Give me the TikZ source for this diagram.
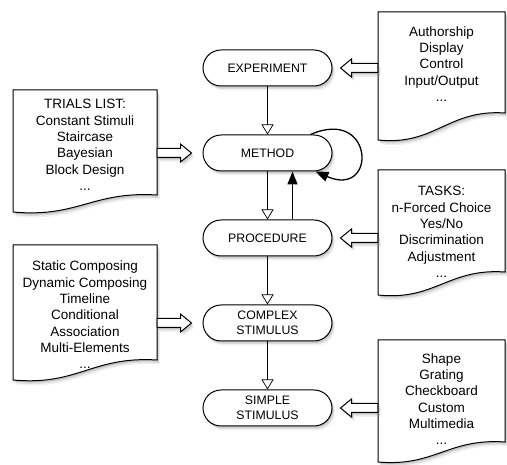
\documentclass[tikz,border=0pt]{standalone}
\usepackage{fontspec}
\setmainfont{Liberation Sans}
\usetikzlibrary{positioning,arrows.meta,shadows,calc}

\begin{document}
\begin{tikzpicture}[x=1pt, y=-1pt, node distance=48pt,
  sombra/.style={drop shadow={shadow xshift=1pt, shadow yshift=-1.5pt, opacity=.3},
                 drop shadow={shadow xshift=2pt, shadow yshift=-3pt, opacity=.2},
                 drop shadow={shadow xshift=3pt, shadow yshift=-4.5pt, opacity=.1}},
  pill/.style={draw, line width=1pt, rounded corners=18pt, fill=white, sombra,
               minimum width=129pt, minimum height=36pt, inner sep=2pt, align=center,
               font=\fontsize{12.3}{15}\selectfont},
  hoja/.style={draw, line width=1pt, fill=white, sombra},
  texto/.style={align=center, inner sep=0pt, font=\fontsize{13.5}{16.3}\selectfont},
  fl/.style={-{Triangle[open, width=12pt, length=10pt]}, line width=0.7pt},
  gr/.style={-{Triangle[width=10pt, length=13pt]}, line width=1.5pt},
  bigr/.style={hoja, to path={let \p1=(\tikztostart), \p2=(\tikztotarget) in
    (\x1,\y1+4.5pt) -- (\x2-11pt,\y1+4.5pt) -- (\x2-11pt,\y1+9pt) -- (\x2,\y1)
    -- (\x2-11pt,\y1-9pt) -- (\x2-11pt,\y1-4.5pt) -- (\x1,\y1-4.5pt) -- cycle}},
  bigl/.style={hoja, to path={let \p1=(\tikztostart), \p2=(\tikztotarget) in
    (\x1,\y1+4.5pt) -- (\x2+11pt,\y1+4.5pt) -- (\x2+11pt,\y1+9pt) -- (\x2,\y1)
    -- (\x2+11pt,\y1-9pt) -- (\x2+11pt,\y1-4.5pt) -- (\x1,\y1-4.5pt) -- cycle}}]
  \useasboundingbox (0,0) rectangle (507,465);

  % hojas
  \draw[hoja] (378,12) -- (505,12) -- (505,113) .. controls (448,109) and (435,146) .. (378,140) -- cycle;
  \draw[hoja] (13,90) -- (157,90) -- (157,195) .. controls (92,191) and (78,218) .. (13,212) -- cycle;
  \draw[hoja] (378,170) -- (505,170) -- (505,272) .. controls (448,268) and (435,301) .. (378,295) -- cycle;
  \draw[hoja] (13,245) -- (157,245) -- (157,360) .. controls (92,356) and (78,386) .. (13,380) -- cycle;
  \draw[hoja] (378,340) -- (505,340) -- (505,442) .. controls (448,438) and (435,467) .. (378,462) -- cycle;

  \node[texto, minimum width=127pt] (auth)   at (441.5,64)  {Authorship\\Display\\Control\\Input/Output\\...};
  \node[texto, minimum width=144pt] (trials) at (85,145)    {TRIALS LIST:\\Constant Stimuli\\Staircase\\Bayesian\\Block Design\\...};
  \node[texto, minimum width=127pt] (tasks)  at (441.5,232) {TASKS:\\n-Forced Choice\\Yes/No\\Discrimination\\Adjustment\\...};
  \node[texto, minimum width=144pt] (compo)  at (85,315)    {Static Composing\\Dynamic Composing\\Timeline\\Conditional\\Association\\Multi-Elements\\...};
  \node[texto, minimum width=127pt] (shapes) at (441.5,399) {Shape\\Grating\\Checkboard\\Custom\\Multimedia\\...};

  % columna central
  \node[pill] (exp) at (267.5,68) {EXPERIMENT};
  \node[pill, below=of exp]    (method) {METHOD};
  \node[pill, below=of method] (proc)   {PROCEDURE};
  \node[pill, below=of proc]   (cstim)  {COMPLEX\\STIMULUS};
  \node[pill, below=of cstim]  (sstim)  {SIMPLE\\STIMULUS};

  \draw[fl] (exp) -- (method);
  \draw[fl] (method) -- (proc);
  \draw[fl] (proc) -- (cstim);
  \draw[fl] (cstim) -- (sstim);
  \draw[gr] ([xshift=25pt]proc.north) -- ([xshift=25pt]method.south);
  \draw[gr, line width=1.3pt] ([xshift=-22pt]method.north east) .. controls +(64,-28) and +(62,27) .. ([xshift=-17pt]method.south east);

  \draw[bigl] (auth.west |- exp) to ([xshift=8pt]exp.east);
  \draw[bigr] (trials.east |- method) to ([xshift=-11pt]method.west);
  \draw[bigl] (tasks.west |- proc) to ([xshift=8pt]proc.east);
  \draw[bigr] (compo.east |- cstim) to ([xshift=-11pt]cstim.west);
  \draw[bigl] (shapes.west |- sstim) to ([xshift=8pt]sstim.east);
\end{tikzpicture}
\end{document}
